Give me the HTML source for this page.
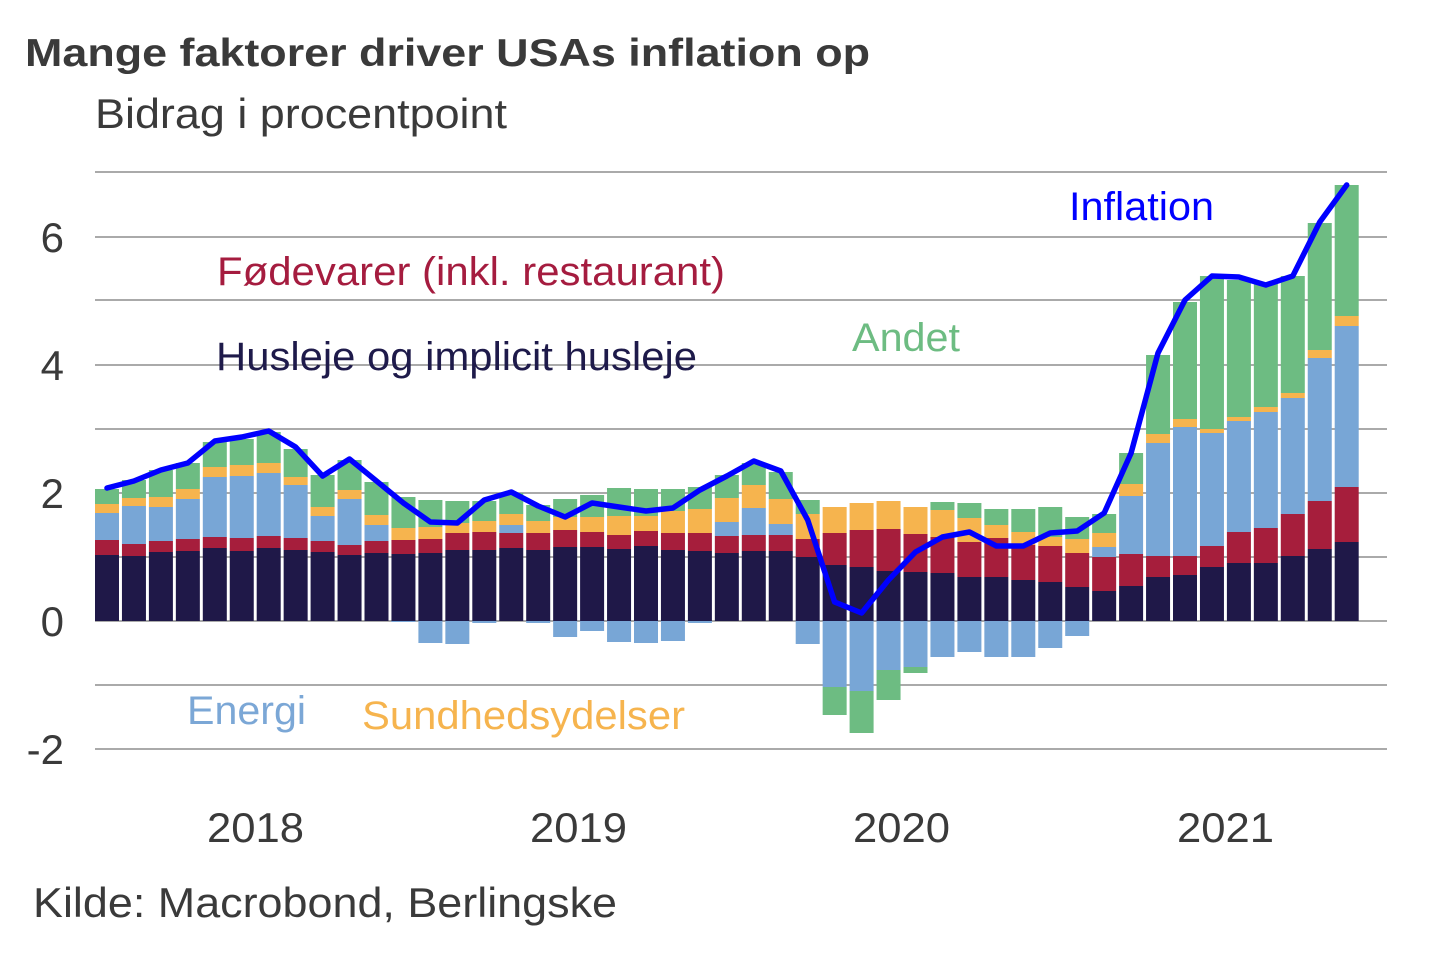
<!DOCTYPE html>
<html><head><meta charset="utf-8"><style>
html,body{margin:0;padding:0;background:#fff;}
svg{display:block;}
text{font-family:"Liberation Sans",Arial,sans-serif;}
</style></head><body>
<svg id="c" width="1440" height="960" viewBox="0 0 1440 960" xmlns="http://www.w3.org/2000/svg">
<rect width="1440" height="960" fill="#fff"/>
<g stroke="#8e8e8e" stroke-width="1.6">
<line x1="95" x2="1387" y1="172" y2="172"/>
<line x1="95" x2="1387" y1="237" y2="237"/>
<line x1="95" x2="1387" y1="300" y2="300"/>
<line x1="95" x2="1387" y1="365" y2="365"/>
<line x1="95" x2="1387" y1="429" y2="429"/>
<line x1="95" x2="1387" y1="493" y2="493"/>
<line x1="95" x2="1387" y1="557" y2="557"/>
<line x1="95" x2="1387" y1="621" y2="621"/>
<line x1="95" x2="1387" y1="685" y2="685"/>
<line x1="95" x2="1387" y1="749" y2="749"/>
</g>
<g id="bars"></g>
<polyline id="line" fill="none" stroke="#0000ff" stroke-width="5.5" stroke-linejoin="round" stroke-linecap="round"/>
<text x="25" y="66" font-size="39" font-weight="bold" fill="#3a3a3a" textLength="845" lengthAdjust="spacingAndGlyphs">Mange faktorer driver USAs inflation op</text>
<text x="95" y="128" font-size="42" fill="#3a3a3a" textLength="412" lengthAdjust="spacingAndGlyphs">Bidrag i procentpoint</text>
<g font-size="42" fill="#3a3a3a" text-anchor="end">
<text x="64" y="252">6</text>
<text x="64" y="380">4</text>
<text x="64" y="508">2</text>
<text x="64" y="636">0</text>
<text x="64" y="764">-2</text>
</g>
<g font-size="42" fill="#3a3a3a">
<text x="207" y="842" textLength="97" lengthAdjust="spacingAndGlyphs">2018</text>
<text x="530" y="842" textLength="97" lengthAdjust="spacingAndGlyphs">2019</text>
<text x="853" y="842" textLength="97" lengthAdjust="spacingAndGlyphs">2020</text>
<text x="1177" y="842" textLength="97" lengthAdjust="spacingAndGlyphs">2021</text>
<text x="33" y="917" textLength="584" lengthAdjust="spacingAndGlyphs">Kilde: Macrobond, Berlingske</text>
</g>
<g font-size="40">
<text x="217" y="285" fill="#a51c3f" textLength="508" lengthAdjust="spacingAndGlyphs">Fødevarer (inkl. restaurant)</text>
<text x="216" y="370" fill="#1e1a4a" textLength="481" lengthAdjust="spacingAndGlyphs">Husleje og implicit husleje</text>
<text x="852" y="351" fill="#6dbc82" textLength="108" lengthAdjust="spacingAndGlyphs">Andet</text>
<text x="1069" y="220" fill="#0000ff" textLength="145" lengthAdjust="spacingAndGlyphs">Inflation</text>
<text x="187" y="724" fill="#7ba7d6" textLength="119" lengthAdjust="spacingAndGlyphs">Energi</text>
<text x="362" y="729" fill="#f6b44e" textLength="323" lengthAdjust="spacingAndGlyphs">Sundhedsydelser</text>
</g>
</svg>
<script>
var D=[
[555,540,513,504,489,0,0,488],
[556,544,506,498,480,0,0,481],
[552,541,507,497,470,0,0,470],
[551,539,499,489,463,0,0,463],
[548,537,477,467,442,0,0,441],
[551,538,476,465,439,0,0,437],
[548,536,473,463,432,0,0,431],
[550,538,485,477,449,0,0,447],
[552,541,516,507,475,0,0,476],
[555,545,499,490,460,0,0,459],
[553,541,525,515,482,0,0,481],
[554,540,0,528,497,622,0,503],
[553,539,0,527,500,643,0,522],
[550,533,0,523,501,644,0,523],
[550,532,0,521,501,623,0,500],
[548,533,525,514,493,0,0,492],
[550,533,0,521,505,623,0,506],
[547,530,0,517,499,637,0,517],
[547,532,0,517,495,631,0,503],
[549,535,0,516,488,642,0,507],
[546,531,0,516,489,643,0,511],
[550,533,0,511,489,641,0,508],
[551,533,0,509,487,623,0,490],
[553,536,522,498,475,0,0,476],
[551,535,508,485,463,0,0,461],
[551,535,524,499,472,0,0,471],
[557,539,0,514,500,644,0,520],
[565,533,0,507,507,687,715,602],
[567,530,0,503,503,691,733,613],
[571,529,0,501,501,670,700,580],
[572,534,0,507,507,667,673,552],
[573,537,0,510,502,657,0,537],
[577,542,0,518,503,652,0,532],
[577,538,0,525,509,657,0,546],
[580,545,0,532,509,657,0,546],
[582,546,0,537,507,648,0,533],
[587,553,0,539,517,636,0,531],
[591,557,547,533,514,0,0,513],
[586,554,496,484,453,0,0,453],
[577,556,443,434,355,0,0,353],
[575,556,427,419,302,0,0,300],
[567,546,433,429,276,0,0,276],
[563,532,421,417,280,0,0,277],
[563,528,412,407,283,0,0,285],
[556,514,398,393,276,0,0,276],
[549,501,358,350,223,0,0,222],
[542,487,326,316,185,0,0,185]];
var C={d:"#1f1848",r:"#a61e3c",b:"#78a6d6",o:"#f6b44e",g:"#6dbc82"};
var ns="http://www.w3.org/2000/svg",g=document.getElementById("bars"),pts=[];
function R(x,y1,y2,c){if(Math.abs(y2-y1)<0.5)return;var r=document.createElementNS(ns,"rect");r.setAttribute("x",x);r.setAttribute("width",24);r.setAttribute("y",Math.min(y1,y2));r.setAttribute("height",Math.abs(y2-y1));r.setAttribute("fill",c);g.appendChild(r);}
D.forEach(function(a,i){var x=95+i*26.95;var Z=621;
R(x,Z,a[0],C.d);R(x,a[0],a[1],C.r);var t=a[1];
if(a[2]){R(x,t,a[2],C.b);t=a[2];}
R(x,t,a[3],C.o);R(x,a[3],a[4],C.g);
if(a[5]){R(x,Z,a[5],C.b);if(a[6])R(x,a[5],a[6],C.g);}
pts.push((x+12).toFixed(1)+","+a[7]);});
document.getElementById("line").setAttribute("points",pts.join(" "));
</script>
</body></html>
